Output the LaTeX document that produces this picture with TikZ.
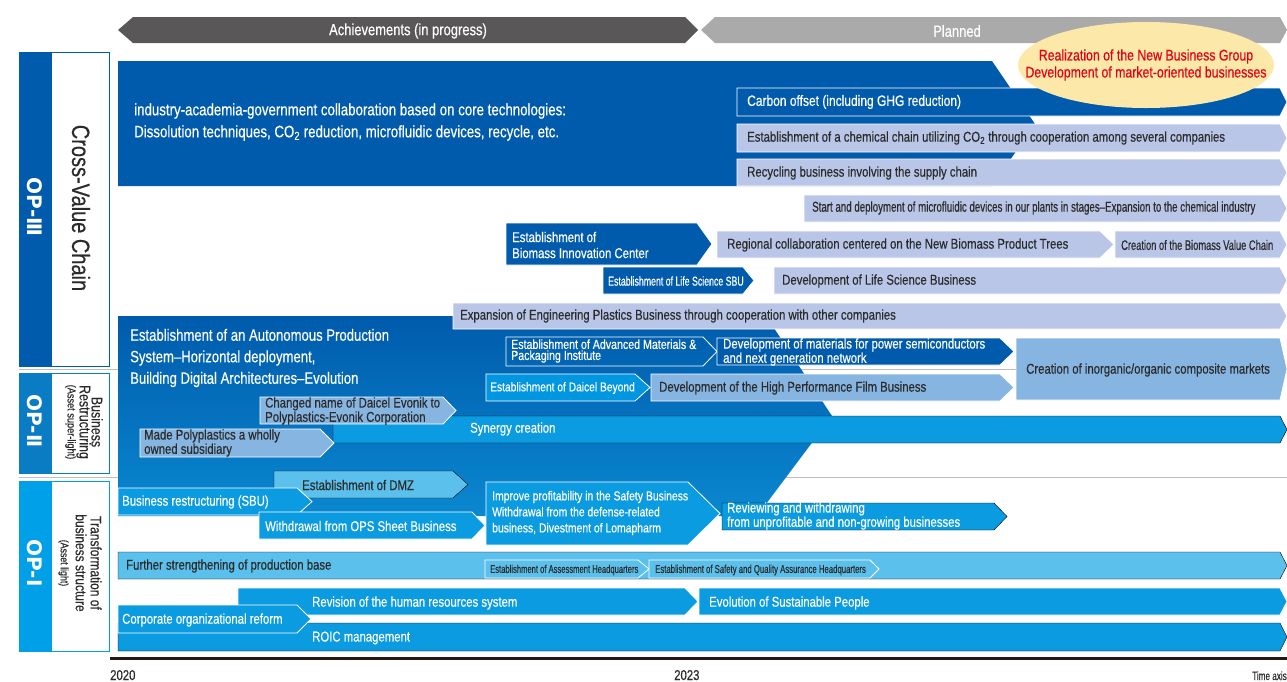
\documentclass[tikz,border=0pt]{standalone}
\usepackage{fontspec}
\setmainfont{Liberation Sans}[FakeStretch=0.8, FakeBold=0.4]
\newfontfamily\narrowfont{Liberation Sans}[FakeStretch=0.68, FakeBold=0.4]
\newfontfamily\opfont{DejaVu Sans}
\definecolor{dblue}{HTML}{005BAC}
\definecolor{mblue}{HTML}{0A7CC4}
\definecolor{lowblue}{HTML}{0A88D0}
\definecolor{cyanb}{HTML}{00A0E9}
\definecolor{barcyan}{HTML}{0A9BE0}
\definecolor{lcyan}{HTML}{5BC1EC}
\definecolor{lav}{HTML}{B9C6E7}
\definecolor{steel}{HTML}{86B5E1}
\definecolor{ellc}{HTML}{FCE8A8}
\definecolor{redt}{HTML}{E60012}
\definecolor{hdark}{HTML}{595757}
\definecolor{hlight}{HTML}{AAAAAA}
\definecolor{txt}{HTML}{2B2B2B}
\definecolor{sepc}{HTML}{BDBDBD}
\definecolor{axisc}{HTML}{231815}
\usetikzlibrary{positioning}

% bar with a point on the right: style, x1, y1, x2 (point), y2, point length
\newcommand{\chev}[6]{%
  \filldraw[#1] (#2,#3) -- ({#4-#6},#3) -- (#4,{(#3+#5)/2}) -- ({#4-#6},#5) -- (#2,#5) -- cycle;}

\begin{document}
\begin{tikzpicture}[x=1pt, y=-1pt,
    lbl/.style={anchor=west, inner sep=0pt, align=left, font=\fontsize{14.2}{15}\selectfont},
    wt/.style={lbl, text=white},
    dk/.style={lbl, text=txt},
    tight/.style={font=\fontsize{14.2}{11}\selectfont},
    smalltxt/.style={font=\narrowfont\fontsize{13.5}{14}\selectfont},
    tinytxt/.style={font=\narrowfont\fontsize{11.2}{12}\selectfont},
    fdark/.style={fill=dblue, draw=white, line width=0.8pt},
    flav/.style={fill=lav, draw=white, line width=0.8pt},
    fsteel/.style={fill=steel, draw=white, line width=0.8pt},
    fcyan/.style={fill=barcyan, draw=white, line width=0.8pt},
    flcyan/.style={fill=lcyan, draw=white, line width=0.8pt},
    vert/.style={rotate=-90, inner sep=0pt, align=center}]
\useasboundingbox (0,0) rectangle (1287,681);

% separators
\draw[sepc, line width=1pt] (19,369) -- (1287,369);
\draw[sepc, line width=1pt] (19,477) -- (1287,477);

% header
\fill[hdark] (118,30) -- (133,17) -- (685,17) -- (698,30) -- (685,43) -- (133,43) -- cycle;
\fill[hlight] (701,30) -- (715,17) -- (1280,17) -- (1287,30) -- (1280,43) -- (715,43) -- cycle;
\node[wt, anchor=center, font=\fontsize{16.2}{17}\selectfont] (ach) at (408,31) {Achievements (in progress)};
\node[wt, anchor=center, font=\fontsize{16.2}{17}\selectfont] (plan) at (957,31) {Planned};

% side panels
\filldraw[fill=white, draw=dblue] (19,52) rectangle (109,366);
\fill[dblue] (19,52) rectangle (52,366);
\filldraw[fill=white, draw=mblue] (19,373) rectangle (109,473);
\fill[mblue] (19,373) rectangle (52,473);
\filldraw[fill=white, draw=cyanb] (19,481) rectangle (109,651);
\fill[cyanb] (19,481) rectangle (52,651);
\node[vert, text=white, font=\opfont\bfseries\fontsize{20}{22}\selectfont] (op3) at (35,207) {OP-Ⅲ};
\node[vert, text=txt, font=\fontsize{25}{26}\selectfont] (cvc) at (81,208) {Cross-Value Chain};
\node[vert, text=white, font=\opfont\bfseries\fontsize{20}{22}\selectfont] (op2) at (35,421) {OP-Ⅱ};
\node[vert, text=txt, font=\fontsize{15.5}{12}\selectfont] (brs) at (84,422) {Business\\Restructuring\\{\fontsize{11.5}{12}\selectfont(Asset super-light)}};
\node[vert, text=white, font=\opfont\bfseries\fontsize{20}{22}\selectfont] (op1) at (35,563) {OP-Ⅰ};
\node[vert, text=txt, font=\fontsize{15}{15}\selectfont] (tbs) at (80,563) {Transformation of\\business structure\\{\fontsize{11}{13}\selectfont(Asset light)}};

% OP-III
\fill[dblue] (118,61) -- (992,61) -- (1035,124) -- (992,186) -- (118,186) -- cycle;
\node[wt, font=\fontsize{16.6}{22}\selectfont] (iag) at (134,122) {industry-academia-government collaboration based on core technologies:\\Dissolution techniques, CO\textsubscript{2} reduction, microfluidic devices, recycle, etc.};
\chev{fdark}{737}{88}{1287}{116}{7}
\node[wt, font=\fontsize{15}{15}\selectfont] (carbon) at (747,102) {Carbon offset (including GHG reduction)};
\chev{flav}{737}{124}{1287}{152}{7}
\node[dk] (chem) at (747,138) {Establishment of a chemical chain utilizing CO\textsubscript{2} through cooperation among several companies};
\chev{flav}{737}{159}{1287}{186}{7}
\node[dk] (recyc) at (747,173) {Recycling business involving the supply chain};
\chev{flav}{804}{195}{1287}{222}{7}
\node[dk, smalltxt, font=\narrowfont\fontsize{14.3}{15}\selectfont] (micro) at (812,208) {Start and deployment of microfluidic devices in our plants in stages–Expansion to the chemical industry};

\fill[ellc] (1146,65) ellipse [x radius=128pt, y radius=43pt];
\node[lbl, anchor=center, align=center, text=redt, font=\fontsize{15.4}{17}\selectfont] (newbiz) at (1146,65) {Realization of the New Business Group\\Development of market-oriented businesses};

\chev{fdark}{506}{223}{712}{265}{15}
\node[wt, font=\fontsize{14.2}{16}\selectfont] (bic) at (512,245) {Establishment of\\Biomass Innovation Center};
\chev{flav}{717}{231}{1114}{258}{14}
\node[dk] (region) at (727,245) {Regional collaboration centered on the New Biomass Product Trees};
\chev{flav}{1115}{231}{1287}{258}{7}
\node[dk, font=\narrowfont\fontsize{13.7}{14}\selectfont] (bvc) at (1121,245) {Creation of the Biomass Value Chain};

\chev{fdark}{603}{267}{754}{294}{11}
\node[wt, font=\narrowfont\fontsize{12.9}{14}\selectfont] (lssbu) at (608,281) {Establishment of Life Science SBU};
\chev{flav}{774}{267}{1287}{294}{7}
\node[dk] (lsbiz) at (782,281) {Development of Life Science Business};

% OP-II
\shade[top color=dblue, bottom color=lowblue] (118,316) -- (766,316) -- (832,416) -- (757,516) -- (118,516) -- cycle;
\chev{flav}{453}{303}{1287}{329}{7}
\node[dk] (engpl) at (460,316) {Expansion of Engineering Plastics Business through cooperation with other companies};
\node[wt, font=\fontsize{16.4}{21.5}\selectfont] (auto) at (130,358) {Establishment of an Autonomous Production\\System–Horizontal deployment,\\Building Digital Architectures–Evolution};

\chev{draw=white, fill=none, line width=0.8pt}{506}{337}{717}{366}{14}
\node[wt, font=\fontsize{13.3}{11}\selectfont] (amp) at (511,351) {Establishment of Advanced Materials \&\\Packaging Institute};
\chev{fdark}{717}{338}{1014}{365}{14}
\node[wt, tight] (power) at (723,352) {Development of materials for power semiconductors\\and next generation network};
\chev{fsteel}{1016}{338}{1287}{400}{7}
\node[dk] (composite) at (1026,370) {Creation of inorganic/organic composite markets};
\chev{fill=cyanb!85!dblue, draw=white, line width=0.8pt}{486}{374}{650}{401}{15}
\node[wt, font=\fontsize{12.8}{14}\selectfont] (beyond) at (490,388) {Establishment of Daicel Beyond};
\chev{fsteel}{651}{374}{1014}{401}{14}
\node[dk] (film) at (659,388) {Development of the High Performance Film Business};

\chev{fill=barcyan}{333}{416}{1287}{443}{7}
\node[wt] (synergy) at (470,429) {Synergy creation};
\chev{fsteel}{260}{397}{456}{424}{13}
\node[dk, tight] (evonik) at (265,411) {Changed name of Daicel Evonik to\\Polyplastics-Evonik Corporation};
\chev{fsteel}{140}{429}{334}{457}{14}
\node[dk, font=\fontsize{14.2}{12}\selectfont] (polyp) at (144,443) {Made Polyplastics a wholly\\owned subsidiary};

% OP-I
\chev{fill=lcyan}{274}{471}{468}{498}{15}
\node[dk] (dmz) at (302,485) {Establishment of DMZ};
\chev{fcyan}{118}{488}{312}{515}{15}
\node[wt] (bsbu) at (122,502) {Business restructuring (SBU)};
\chev{fcyan}{259}{512}{485}{539}{13}
\node[wt] (ops) at (265,526) {Withdrawal from OPS Sheet Business};
\chev{fcyan}{486}{482}{720}{545}{32}
\node[wt, font=\fontsize{13}{16}\selectfont] (safety) at (492,513) {Improve profitability in the Safety Business\\Withdrawal from the defense-related\\business, Divestment of Lomapharm};
\chev{fill=barcyan}{722}{503}{1007}{530}{13}
\node[wt, tight] (review) at (727,516) {Reviewing and withdrawing\\from unprofitable and non-growing businesses};

\chev{fill=lcyan}{118}{552}{1287}{579}{7}
\node[dk] (prod) at (126,566) {Further strengthening of production base};
\chev{flcyan}{485}{560}{649}{578}{11}
\node[dk, tinytxt] (assess) at (490,570) {Establishment of Assessment Headquarters};
\chev{flcyan}{649}{560}{879}{578}{9}
\node[dk, tinytxt, font=\narrowfont\fontsize{11.4}{12}\selectfont] (sqa) at (655,570) {Establishment of Safety and Quality Assurance Headquarters};

\chev{fill=barcyan}{118}{623}{1287}{651}{7}
\node[wt] (roic) at (312,638) {ROIC management};
\chev{fcyan}{238}{588}{698}{615}{13}
\node[wt] (hr) at (312,603) {Revision of the human resources system};
\chev{fcyan}{699}{588}{1287}{615}{7}
\node[wt] (people) at (709,603) {Evolution of Sustainable People};
\chev{fcyan}{118}{605}{311}{633}{14}
\node[wt] (corp) at (122,620) {Corporate organizational reform};

% time axis
\draw[axisc, line width=3pt] (110,658) -- (1287,658);
\node[dk, anchor=base west] (y2020) at (110,680) {2020};
\node[dk, anchor=base west] (y2023) at (674,680) {2023};
\node[dk, tinytxt, font=\narrowfont\fontsize{12}{12}\selectfont, anchor=base east] (taxis) at (1287,680) {Time axis};
\end{tikzpicture}
\end{document}
